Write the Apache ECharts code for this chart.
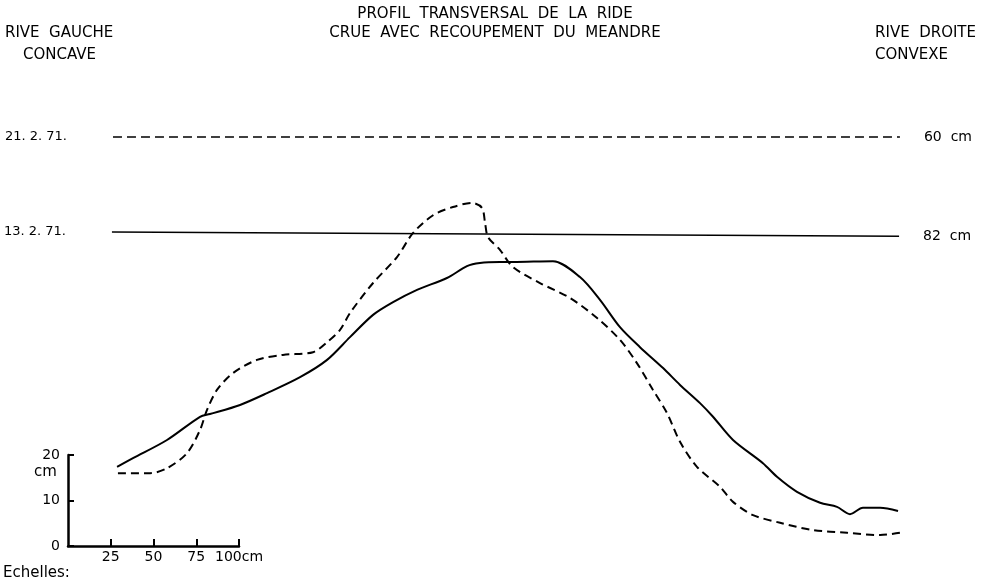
<!DOCTYPE html>
<html>
<head>
<meta charset="utf-8">
<script src="https://cdn.jsdelivr.net/npm/echarts@6/dist/echarts.min.js"></script>
<style>
  html, body { margin: 0; padding: 0; background: #fff; }
  #main { width: 990px; height: 584px; }
</style>
</head>
<body>
<div id="main"></div>
<script>
// profil du 13.2.71 (trait plein), [distance cm, hauteur cm]
const profil13 = [
    [28.7,17.4],[38.0,19.3],[57.9,23.3],[77.2,28.4],[83.0,29.0],[100.6,31.0],
    [116.4,33.6],[135.7,37.1],[151.5,40.9],[164.9,45.9],[178.4,50.8],[190.1,53.6],
    [204.1,56.3],[221.6,58.9],[233.3,61.5],[240.9,62.2],[252.6,62.4],[260.2,62.4],
    [283.6,62.6],[299.4,59.1],[311.1,54.1],[322.8,48.1],[334.5,43.7],[348.0,39.1],
    [357.9,35.4],[369.6,31.4],[377.2,28.4],[388.9,23.3],[406.4,18.2],[414.6,15.2],
    [426.3,11.9],[439.8,9.5],[449.7,8.6],[457.3,7.0],[464.9,8.4],[474.9,8.4],[485.4,7.7]
];
// profil du 21.2.71 (tirets)
const profil21 = [
    [29.2,16.0],[48.0,16.0],[57.9,17.1],[69.6,20.4],[77.2,25.5],[81.3,29.9],
    [87.1,34.3],[96.5,38.0],[110.5,40.9],[125.7,42.0],[143.3,42.6],[151.5,44.8],
    [159.1,47.5],[164.9,51.2],[178.4,57.8],[192.4,63.5],[201.8,68.8],[213.5,72.7],
    [225.1,74.5],[236.3,75.4],[242.1,74.3],[243.9,71.0],[245.6,67.9],[252.6,65.1],
    [260.2,61.3],[276.0,57.8],[293.6,54.5],[309.4,50.1],[322.8,45.3],[332.7,40.2],
    [342.1,34.3],[350.3,29.2],[357.9,22.9],[367.8,17.4],[381.3,13.0],[388.9,9.7],
    [400.6,6.8],[416.4,5.1],[435.7,3.5],[455.6,2.9],[474.9,2.4],[486.5,2.9]
];
// niveaux d'eau
const niveau21 = [[26.3,89.9],[486.5,89.9]];
const niveau13 = [[25.7,69.0],[486.0,68.1]];
const dates = ['21. 2. 71.', '13. 2. 71.'];
const hauteurs = ['60  cm', '82  cm'];

// echelles
const echelleX = ['0', '25', '50', '75', '100cm'];
const echelleY = ['0', '10', '20'];

const font = 'DejaVu Sans';
const ink = '#000';
const txt = '15px ' + font;

function niveauData(pts, date, h) {
    return [
        {value: pts[0], label: {show: true, position: 'left', distance: 46, fontSize: 13, formatter: date}},
        {value: pts[1], label: {show: true, position: 'right', distance: 24, formatter: h}}
    ];
}

let myChart = echarts.init(document.getElementById('main'));
let option = {
    backgroundColor: '#fff',
    animation: false,
    textStyle: {fontFamily: font, color: ink},
    grid: [
        {left: 68, top: 91, width: 855, height: 455},
        {left: 68, top: 455, width: 171, height: 91}
    ],
    xAxis: [
        {gridIndex: 0, type: 'value', min: 0, max: 500, show: false},
        {
            gridIndex: 1, type: 'value', min: 0, max: 100, interval: 25,
            axisLine: {lineStyle: {color: ink, width: 2.5}},
            axisTick: {inside: true, length: 7, lineStyle: {color: ink, width: 2}},
            splitLine: {show: false},
            axisLabel: {
                color: ink, fontFamily: font, fontSize: 14, margin: 4,
                showMinLabel: false,
                formatter: v => echelleX[v / 25]
            }
        }
    ],
    yAxis: [
        {gridIndex: 0, type: 'value', min: 0, max: 100, show: false},
        {
            gridIndex: 1, type: 'value', min: 0, max: 20, interval: 10,
            axisLine: {lineStyle: {color: ink, width: 2.5}},
            axisTick: {inside: true, length: 6, lineStyle: {color: ink, width: 2}},
            splitLine: {show: false},
            axisLabel: {
                color: ink, fontFamily: font, fontSize: 14, margin: 8,
                formatter: v => echelleY[v / 10]
            }
        }
    ],
    series: [
        {
            type: 'line', data: profil13, smooth: 0.3, symbol: 'none',
            lineStyle: {color: ink, width: 2}
        },
        {
            type: 'line', data: profil21, smooth: 0.3, symbol: 'none',
            lineStyle: {color: ink, width: 2, type: [8, 5]}
        },
        {
            type: 'line', data: niveauData(niveau21, dates[0], hauteurs[0]),
            symbol: 'circle', symbolSize: 0, showSymbol: true,
            lineStyle: {color: ink, width: 1.5, type: [9, 5]},
            label: {color: ink, fontFamily: font, fontSize: 14}
        },
        {
            type: 'line', data: niveauData(niveau13, dates[1], hauteurs[1]),
            symbol: 'circle', symbolSize: 0, showSymbol: true,
            lineStyle: {color: ink, width: 1.5},
            label: {color: ink, fontFamily: font, fontSize: 14}
        }
    ],
    graphic: [
        {type: 'text', left: 'center', top: 7, style: {text: 'PROFIL  TRANSVERSAL  DE  LA  RIDE', font: txt, fill: ink}},
        {type: 'text', left: 'center', top: 26, style: {text: 'CRUE  AVEC  RECOUPEMENT  DU  MEANDRE', font: txt, fill: ink}},
        {type: 'text', left: 5, top: 26, style: {text: 'RIVE  GAUCHE', font: txt, fill: ink}},
        {type: 'text', left: 23, top: 48, style: {text: 'CONCAVE', font: txt, fill: ink}},
        {type: 'text', right: 14, top: 26, style: {text: 'RIVE  DROITE', font: txt, fill: ink}},
        {type: 'text', right: 42, top: 48, style: {text: 'CONVEXE', font: txt, fill: ink}},
        {type: 'text', left: 34, top: 465, style: {text: 'cm', font: txt, fill: ink}},
        {type: 'text', left: 3, top: 566, style: {text: 'Echelles:', font: txt, fill: ink}}
    ]
};
myChart.setOption(option);
</script>
</body>
</html>
